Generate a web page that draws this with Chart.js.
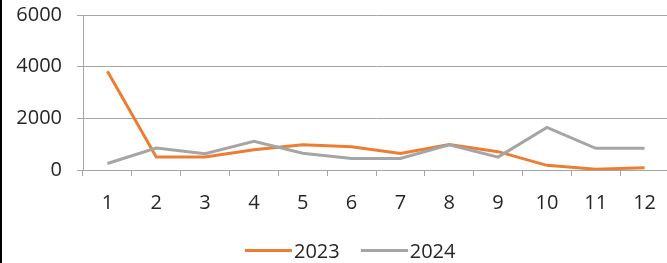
<!DOCTYPE html>
<html>
<head>
<meta charset="utf-8">
<script src="https://cdn.jsdelivr.net/npm/chart.js@4/dist/chart.umd.min.js"></script>
<style>
    html, body { margin: 0; padding: 0; background: #fff; overflow: hidden; }
    #wrap { position: relative; width: 667px; height: 263px; overflow: hidden; }
    #edge { position: absolute; left: 0; top: 0; width: 2px; height: 263px; background: #000; }
    canvas { position: absolute; left: 0; top: 0; }
    #legend {
        position: absolute; left: 245px; top: 237px; height: 26px;
        display: flex; align-items: center;
        font-family: "Open Sans", sans-serif; font-size: 20px; color: #262626;
    }
    .item { display: flex; align-items: center; margin-right: 21px; }
    .swatch { width: 47px; height: 3px; margin-right: 2px; }
</style>
</head>
<body>
<div id="wrap">
    <canvas id="lineChart" width="669" height="263"></canvas>
    <div id="legend"></div>
    <div id="edge"></div>
</div>
<script>
const months = ['1', '2', '3', '4', '5', '6', '7', '8', '9', '10', '11', '12'];
const values2023 = [3820, 500, 500, 780, 980, 900, 640, 990, 710, 180, 30, 90];
const values2024 = [250, 850, 630, 1110, 650, 450, 450, 980, 500, 1650, 840, 840];
const yTicks = [0, 2000, 4000, 6000];

const FONT = { family: '"Open Sans", sans-serif', size: 20 };
const AXIS_GRAY = '#a6a6a6';

/* ===================================================== */
/* CHART                                                   */
/* ===================================================== */

const ctx = document.getElementById('lineChart').getContext('2d');

const chart = new Chart(ctx, {
    type: 'line',
    data: {
        labels: months,
        datasets: [{
            label: '2023',
            data: values2023,
            borderColor: '#ed7d31',
            backgroundColor: '#ed7d31',
            borderWidth: 3,
            pointRadius: 0,
            tension: 0,
            order: 1
        }, {
            label: '2024',
            data: values2024,
            borderColor: '#a5a5a5',
            backgroundColor: '#a5a5a5',
            borderWidth: 3,
            pointRadius: 0,
            tension: 0,
            order: 0
        }]
    },
    options: {
        responsive: false,
        animation: false,
        layout: { padding: { left: 0, right: 0, top: 15, bottom: 0 } },
        plugins: {
            tooltip: { enabled: false },
            legend: { display: false }
        },
        scales: {
            x: {
                offset: true,
                grid: {
                    offset: true,
                    drawOnChartArea: false,
                    drawTicks: true,
                    tickLength: 6,
                    color: AXIS_GRAY
                },
                border: { color: AXIS_GRAY, width: 1 },
                ticks: {
                    color: '#262626',
                    font: FONT,
                    padding: 15,
                    maxRotation: 0
                },
                afterFit: axis => {
                    axis.height = 93;
                    axis.paddingLeft = 0;
                    axis.paddingRight = 0;
                }
            },
            y: {
                min: 0,
                max: 6000,
                afterBuildTicks: axis => {
                    axis.ticks = yTicks.map(v => ({ value: v }));
                },
                grid: {
                    color: AXIS_GRAY,
                    tickLength: 6
                },
                border: { color: AXIS_GRAY, width: 1 },
                ticks: {
                    color: '#262626',
                    font: FONT,
                    padding: 15,
                    callback: value => String(value)
                },
                afterFit: axis => {
                    axis.width = 83;
                    axis.paddingTop = 0;
                    axis.paddingBottom = 0;
                }
            }
        }
    }
});

/* ===================================================== */
/* LEGEND                                                  */
/* ===================================================== */

const legendEl = document.getElementById('legend');
chart.data.datasets.forEach(ds => {
    const item = document.createElement('div');
    item.className = 'item';
    item.innerHTML = `<span class="swatch" style="background:${ds.borderColor}"></span><span>${ds.label}</span>`;
    legendEl.appendChild(item);
});
</script>
</body>
</html>
